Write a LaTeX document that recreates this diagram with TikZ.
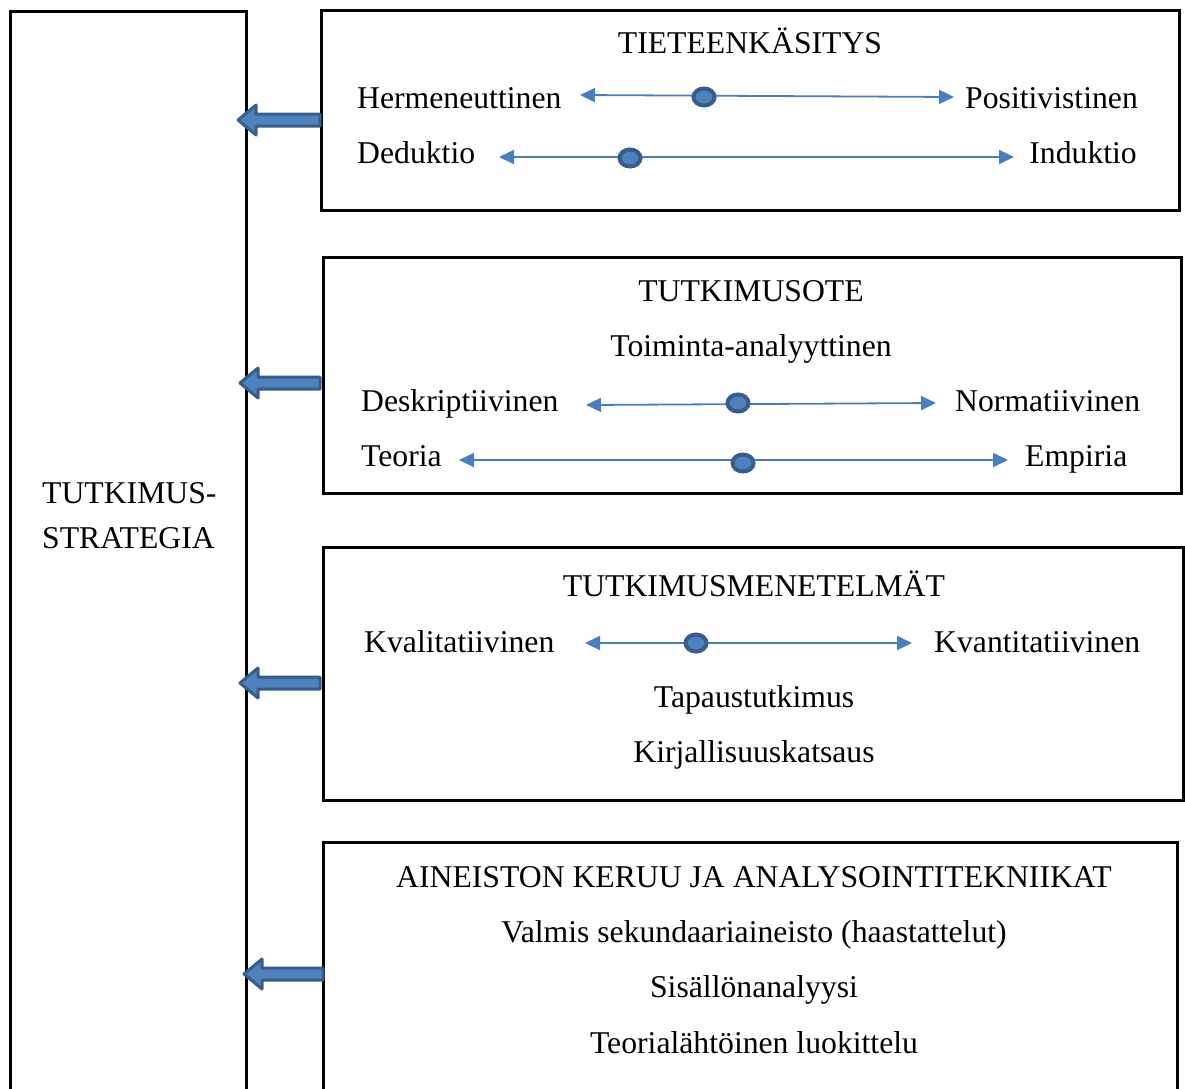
\documentclass[tikz,border=0pt]{standalone}
\usepackage{fontspec}
\setmainfont{Liberation Serif}
\usetikzlibrary{arrows.meta,shapes.geometric}
\definecolor{lineblue}{RGB}{74,126,187}
\definecolor{fillblue}{RGB}{79,129,189}
\definecolor{edgeblue}{RGB}{56,93,138}
\begin{document}
\begin{tikzpicture}[x=1pt,y=-1pt,
  every node/.style={font=\fontsize{31.7}{38}\selectfont, inner sep=0pt},
  frame/.style={draw=black, line width=3pt},
  scale line/.style={draw=lineblue, line width=1.8pt, {Triangle[length=15pt,width=14pt]}-{Triangle[length=15pt,width=14pt]}},
  knob/.style={ellipse, draw=edgeblue, fill=fillblue, line width=4pt, minimum width=21pt, minimum height=17pt, inner sep=0pt},
  blockarrow/.style={draw=edgeblue, fill=fillblue, line width=3pt, line join=round}
]
\useasboundingbox (0,0) rectangle (1185,1088);

% frames
\draw[frame, line join=miter] (10,1110) -- (10,11) -- (246,11) -- (246,1110);
\draw[frame] (321,10) rectangle (1179,210);
\draw[frame] (323,257) rectangle (1181,493);
\draw[frame] (323,547) rectangle (1183,800);
\draw[frame] (323,1110) -- (323,842) -- (1177,842) -- (1177,1110);

% left label
\node[anchor=base west] (strat1) at (42,503) {TUTKIMUS-};
\node[anchor=base west] (strat2) at (42,548) {STRATEGIA};

% block arrows
\foreach \c/\t/\e in {120/238/320, 383/240/320, 683/240/320, 974/244/323}{
  \draw[blockarrow] (\e,\c-6) -- (\t+18,\c-6) -- (\t+18,\c-15) -- (\t,\c) -- (\t+18,\c+15) -- (\t+18,\c+6) -- (\e,\c+6) -- cycle;
}

% Box 1
\node[anchor=base] (t1) at (750,53) {TIETEENKÄSITYS};
\node[anchor=base west] (herm) at (357,108) {Hermeneuttinen};
\node[anchor=base west] (posi) at (965,108) {Positivistinen};
\node[anchor=base west] (dedu) at (357,163) {Deduktio};
\node[anchor=base east] (indu) at (1137,163) {Induktio};
\coordinate (a1l) at (580,95); \coordinate (a1r) at (954,97);
\coordinate (a2l) at (499,157); \coordinate (a2r) at (1014,157);
\draw[scale line] (a1l) -- (a1r);
\draw[scale line] (a2l) -- (a2r);
\node[knob] (k1) at (704,97) {};
\node[knob] (k2) at (630,158) {};

% Box 2
\node[anchor=base] (t2) at (751,301) {TUTKIMUSOTE};
\node[anchor=base] (toim) at (751,356) {Toiminta-analyyttinen};
\node[anchor=base west] (desk) at (361,411) {Deskriptiivinen};
\node[anchor=base west] (norm) at (955,411) {Normatiivinen};
\node[anchor=base west] (teor) at (361,466) {Teoria};
\node[anchor=base west] (empi) at (1025,466) {Empiria};
\coordinate (a3l) at (586,405); \coordinate (a3r) at (936,403);
\coordinate (a4l) at (459,460); \coordinate (a4r) at (1008,460);
\draw[scale line] (a3l) -- (a3r);
\draw[scale line] (a4l) -- (a4r);
\node[knob] (k3) at (738,403) {};
\node[knob] (k4) at (743,463) {};

% Box 3
\node[anchor=base] (t3) at (754,596) {TUTKIMUSMENETELMÄT};
\node[anchor=base west] (kval) at (364,652) {Kvalitatiivinen};
\node[anchor=base west] (kvan) at (934,652) {Kvantitatiivinen};
\node[anchor=base] (tapa) at (754,707) {Tapaustutkimus};
\node[anchor=base] (kirj) at (754,762) {Kirjallisuuskatsaus};
\coordinate (a5l) at (585,643); \coordinate (a5r) at (912,643);
\draw[scale line] (a5l) -- (a5r);
\node[knob] (k5) at (696,643) {};

% Box 4
\node[anchor=base] (t4) at (754,887) {AINEISTON KERUU JA ANALYSOINTITEKNIIKAT};
\node[anchor=base] (valm) at (754,942) {Valmis sekundaariaineisto (haastattelut)};
\node[anchor=base] (sisa) at (754,997) {Sisällönanalyysi};
\node[anchor=base] (luok) at (754,1053) {Teorialähtöinen luokittelu};
\end{tikzpicture}
\end{document}
